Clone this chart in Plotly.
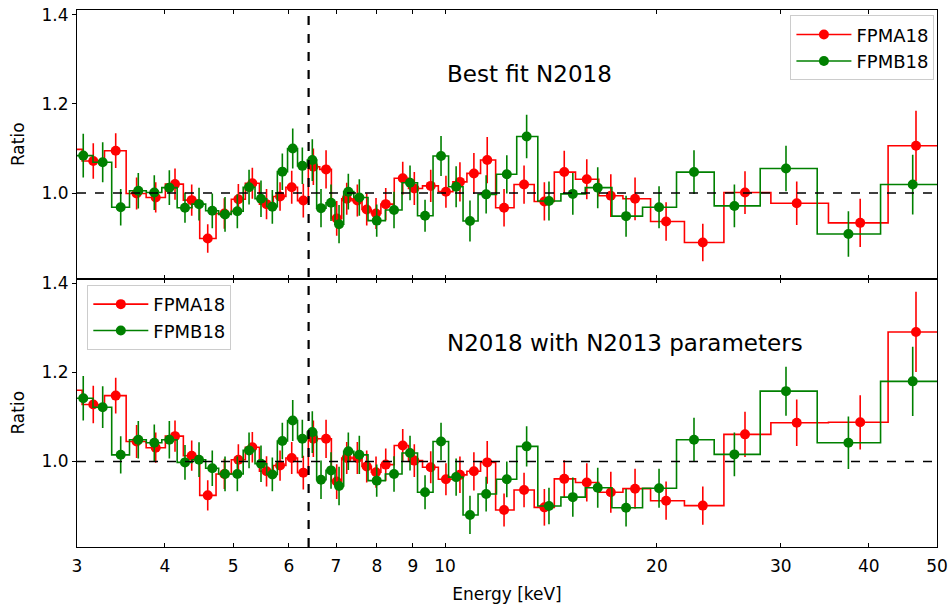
import numpy as np
import plotly.graph_objects as go
from plotly.subplots import make_subplots

# ---------------- data ----------------
# bin centre energies [keV]
E_FPMA = [2.942, 3.164, 3.405, 3.646, 3.881, 4.134, 4.366, 4.601, 4.858, 5.086,
          5.324, 5.577, 5.829, 6.056, 6.290, 6.500, 6.776, 7.016, 7.250, 7.506,
          7.740, 7.979, 8.237, 8.708, 9.044, 9.543, 10.03, 10.50, 10.99, 11.48,
          12.13, 12.95, 13.84, 14.77, 15.90, 17.20, 18.62, 20.61, 23.24, 26.68,
          31.60, 38.89, 46.68]
E_FPMB = [3.062, 3.263, 3.461, 3.666, 3.863, 4.058, 4.271, 4.472, 4.670, 4.869,
          5.069, 5.267, 5.477, 5.684, 5.873, 6.076, 6.270, 6.478, 6.665, 6.887,
          7.070, 7.288, 7.555, 7.997, 8.463, 8.918, 9.367, 9.870, 10.37, 10.85,
          11.44, 12.24, 13.06, 14.05, 15.19, 16.48, 18.08, 20.14, 22.58, 25.77,
          30.51, 37.42, 46.18]

# top panel: best fit N2018
TOP_FPMA = [1.098, 1.072, 1.095, 0.999, 0.990, 1.020, 0.984, 0.898, 0.954, 0.986,
            1.022, 0.975, 0.992, 1.013, 0.983, 1.059, 1.053, 0.943, 0.987, 0.983,
            0.963, 0.954, 0.975, 1.033, 1.010, 1.016, 1.003, 1.025, 1.044, 1.074,
            0.967, 1.019, 0.981, 1.047, 1.031, 0.994, 0.987, 0.936, 0.889, 1.001,
            0.977, 0.933, 1.106]
TOP_FPMA_ERR = [0.040, 0.040, 0.039, 0.036, 0.034, 0.035, 0.035, 0.032, 0.034, 0.034,
                0.035, 0.034, 0.032, 0.037, 0.038, 0.041, 0.043, 0.039, 0.036, 0.036,
                0.036, 0.035, 0.036, 0.037, 0.037, 0.036, 0.036, 0.044, 0.046, 0.052,
                0.042, 0.043, 0.043, 0.048, 0.045, 0.048, 0.048, 0.043, 0.042, 0.048,
                0.049, 0.054, 0.079]
TOP_FPMB = [1.084, 1.069, 0.968, 1.005, 1.001, 1.012, 0.967, 0.975, 0.960, 0.952,
            0.959, 1.013, 0.987, 0.969, 1.048, 1.100, 1.061, 1.074, 0.966, 0.978,
            0.930, 1.003, 0.990, 0.938, 0.962, 1.023, 0.949, 1.083, 1.014, 0.937,
            0.997, 1.042, 1.127, 0.982, 0.998, 1.012, 0.948, 0.968, 1.047, 0.971,
            1.055, 0.908, 1.019]
TOP_FPMB_ERR = [0.049, 0.045, 0.041, 0.040, 0.039, 0.039, 0.034, 0.037, 0.039, 0.039,
                0.038, 0.039, 0.041, 0.038, 0.041, 0.045, 0.041, 0.047, 0.043, 0.041,
                0.043, 0.040, 0.041, 0.036, 0.041, 0.039, 0.036, 0.045, 0.046, 0.046,
                0.043, 0.043, 0.049, 0.044, 0.047, 0.046, 0.046, 0.047, 0.049, 0.048,
                0.051, 0.051, 0.067]

# bottom panel: N2018 with N2013 parameters
BOT_FPMA = [1.160, 1.128, 1.148, 1.045, 1.031, 1.057, 1.013, 0.924, 0.972, 1.004,
            1.032, 0.978, 0.991, 1.008, 0.975, 1.051, 1.051, 0.955, 1.008, 1.008,
            0.989, 0.976, 0.993, 1.036, 1.002, 0.987, 0.960, 0.970, 0.978, 0.998,
            0.891, 0.936, 0.897, 0.961, 0.953, 0.931, 0.939, 0.912, 0.901, 1.061,
            1.087, 1.088, 1.291]
BOT_FPMA_ERR = [0.042, 0.042, 0.040, 0.037, 0.034, 0.035, 0.034, 0.034, 0.034, 0.035,
                0.034, 0.034, 0.034, 0.036, 0.038, 0.041, 0.043, 0.039, 0.036, 0.036,
                0.036, 0.035, 0.036, 0.037, 0.037, 0.036, 0.036, 0.041, 0.043, 0.048,
                0.037, 0.039, 0.041, 0.042, 0.043, 0.046, 0.045, 0.043, 0.043, 0.051,
                0.052, 0.061, 0.090]
BOT_FPMB = [1.142, 1.122, 1.015, 1.049, 1.042, 1.049, 0.998, 1.004, 0.985, 0.972,
            0.972, 1.025, 0.995, 0.971, 1.046, 1.092, 1.051, 1.066, 0.959, 0.980,
            0.945, 1.023, 1.015, 0.957, 0.972, 1.019, 0.931, 1.045, 0.965, 0.880,
            0.927, 0.960, 1.034, 0.900, 0.920, 0.941, 0.896, 0.940, 1.049, 1.016,
            1.158, 1.042, 1.180]
BOT_FPMB_ERR = [0.050, 0.047, 0.042, 0.042, 0.041, 0.042, 0.039, 0.039, 0.040, 0.039,
                0.039, 0.040, 0.041, 0.038, 0.041, 0.046, 0.043, 0.047, 0.043, 0.041,
                0.043, 0.042, 0.043, 0.036, 0.040, 0.039, 0.038, 0.042, 0.042, 0.043,
                0.039, 0.040, 0.045, 0.041, 0.044, 0.045, 0.042, 0.044, 0.049, 0.049,
                0.055, 0.059, 0.078]

SERIES_NAMES = ["FPMA18", "FPMB18"]
PANEL_TITLES = ["Best fit N2018", "N2018 with N2013 parameters"]
FE_LINE_KEV = 6.4
X_TICKS = [3, 4, 5, 6, 7, 8, 9, 10, 20, 30, 40, 50]
Y_TICKS = [1.0, 1.2, 1.4]
X_RANGE = [3, 50]
Y_RANGE = [0.808, 1.411]
TEXT_X_KEV = 10
TEXT_Y = 1.267

RED = "#ff0000"
GREEN = "#008000"
FONT = "DejaVu Sans"


def end_extensions(e):
    """Half bin widths (log-symmetric) for first and last bins."""
    e = np.asarray(e, dtype=float)
    n = len(e)
    minus = np.zeros(n)
    plus = np.zeros(n)
    minus[0] = e[0] - e[0] * np.sqrt(e[0] / e[1])
    plus[-1] = e[-1] * np.sqrt(e[-1] / e[-2]) - e[-1]
    return plus, minus


fig = make_subplots(rows=2, cols=1, shared_xaxes=True, vertical_spacing=0)

panels = [
    (1, "legend", [(E_FPMA, TOP_FPMA, TOP_FPMA_ERR, RED), (E_FPMB, TOP_FPMB, TOP_FPMB_ERR, GREEN)]),
    (2, "legend2", [(E_FPMA, BOT_FPMA, BOT_FPMA_ERR, RED), (E_FPMB, BOT_FPMB, BOT_FPMB_ERR, GREEN)]),
]

for row, leg, series in panels:
    for name, (e, y, err, col) in zip(SERIES_NAMES, series):
        plus, minus = end_extensions(e)
        fig.add_trace(go.Scatter(
            x=e, y=y, name=name, legend=leg,
            mode="lines+markers",
            line=dict(shape="hvh", color=col, width=1.6),
            marker=dict(color=col, size=10, symbol="circle"),
            error_y=dict(type="data", array=err, color=col, thickness=1.6, width=0),
            error_x=dict(type="data", symmetric=False, array=plus, arrayminus=minus,
                         color=col, thickness=1.6, width=0),
            cliponaxis=True,
        ), row=row, col=1)

for row in (1, 2):
    yref = "y" if row == 1 else "y2"
    fig.add_shape(type="line", xref="paper", x0=0, x1=1, yref=yref, y0=1.0, y1=1.0,
                  line=dict(color="black", width=1.3, dash="dash"), layer="above")

fig.add_shape(type="line", xref="x2", x0=FE_LINE_KEV, x1=FE_LINE_KEV, yref="paper", y0=0, y1=1,
              line=dict(color="black", width=2.2, dash="dash"), layer="above")

for i, (title, xr, yr) in enumerate(zip(PANEL_TITLES, ["x", "x2"], ["y", "y2"])):
    fig.add_annotation(text=title, xref=xr, yref=yr, x=np.log10(TEXT_X_KEV), y=TEXT_Y,
                       xanchor="left", yanchor="middle", showarrow=False,
                       font=dict(size=23, color="black", family=FONT))

axis_common = dict(showline=True, linecolor="black", linewidth=1, mirror="ticks",
                   ticks="inside", ticklen=4, tickcolor="black", showgrid=False,
                   zeroline=False, automargin=False)
x_range = [np.log10(X_RANGE[0]), np.log10(X_RANGE[1])]
fig.update_xaxes(type="log", range=x_range, tickvals=X_TICKS,
                 ticktext=[str(t) for t in X_TICKS], **axis_common)
fig.update_xaxes(showticklabels=False, row=1, col=1)
fig.update_xaxes(title=dict(text="Energy [keV]", font=dict(size=17, family=FONT, color="black"), standoff=12),
                 tickfont=dict(size=17, family=FONT, color="black"), ticklabelstandoff=4, row=2, col=1)

y_common = dict(showline=True, linecolor="black", linewidth=1, mirror=True,
                ticks="outside", ticklen=4, tickcolor="black", showgrid=False, zeroline=False,
                automargin=False,
                range=Y_RANGE, tickvals=Y_TICKS, ticktext=["%.1f" % t for t in Y_TICKS],
                tickfont=dict(size=17, family=FONT, color="black"),
                title=dict(text="Ratio", font=dict(size=17, family=FONT, color="black"), standoff=12))
fig.update_yaxes(**y_common)
fig.update_layout(yaxis=dict(domain=[0.5, 1.0]), yaxis2=dict(domain=[0.0, 0.5]))

legend_common = dict(bordercolor="#cccccc", borderwidth=1, bgcolor="white",
                     font=dict(size=18, family=FONT, color="black"), itemwidth=55,
                     tracegroupgap=0)
fig.update_layout(
    width=952, height=605,
    margin=dict(l=77, r=15, t=10, b=58),
    plot_bgcolor="white", paper_bgcolor="white",
    font=dict(family=FONT, color="black"),
    legend=dict(x=0.997, xanchor="right", y=0.99, yanchor="top", **legend_common),
    legend2=dict(x=0.012, xanchor="left", y=0.488, yanchor="top", **legend_common),
    showlegend=True,
)

fig.write_html("out.html")
